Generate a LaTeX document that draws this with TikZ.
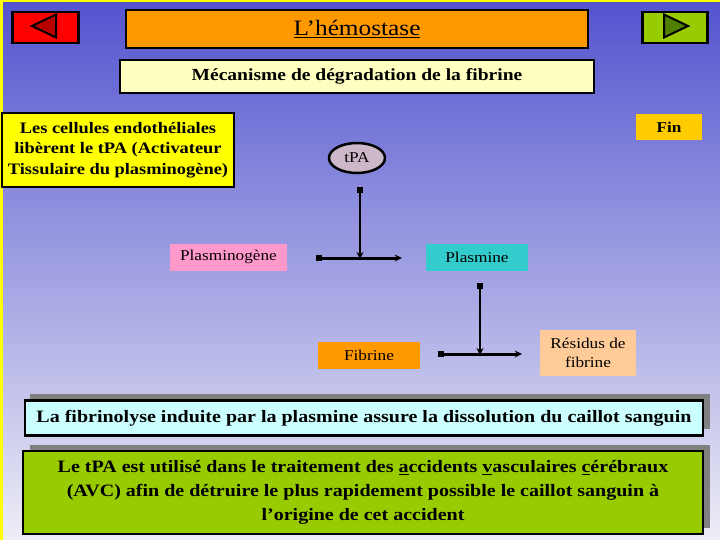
\documentclass[tikz,border=0pt]{standalone}
\usepackage{fontspec}
\setmainfont[FakeStretch=1.15]{Liberation Serif}
\usetikzlibrary{arrows.meta,shapes.geometric}
\definecolor{bgtop}{HTML}{5353CF}
\definecolor{bgbot}{HTML}{EEEEF6}
\definecolor{btnred}{HTML}{FF0000}
\definecolor{triRed}{HTML}{B80000}
\definecolor{btngreen}{HTML}{99CC00}
\definecolor{triGreen}{HTML}{4F7F00}
\definecolor{orangeT}{HTML}{FF9900}
\definecolor{paleY}{HTML}{FFFFC0}
\definecolor{yellowB}{HTML}{FFFF00}
\definecolor{finC}{HTML}{FFCC00}
\definecolor{tpaC}{HTML}{CCB8C8}
\definecolor{pinkC}{HTML}{FF99CC}
\definecolor{tealC}{HTML}{33CCCC}
\definecolor{peachC}{HTML}{FFCC99}
\definecolor{cyanL}{HTML}{CCFFFF}
\definecolor{shadowC}{HTML}{808080}
\tikzset{
  bordered/.style={draw=black, line width=2.5pt, inner sep=0pt, align=center},
  plain/.style={draw=none, inner sep=0pt, align=center},
  conn/.style={line width=3pt, {Square[length=6pt,width=6pt]}-{Stealth[length=7pt,width=7pt]}},
  vconn/.style={conn, line width=2.4pt},
  shadowbox/.style={fill=shadowC, draw=none}
}
\begin{document}
\begin{tikzpicture}[x=1pt,y=-1pt]
\useasboundingbox (0,0) rectangle (720,540);
% background
\shade[top color=bgtop, bottom color=bgbot] (0,0) rectangle (720,540);
\fill[yellowB] (0,0) rectangle (720,2.5);
\fill[yellowB] (0,0) rectangle (2.5,540);
% navigation buttons
\node[bordered, fill=btnred, minimum width=66pt, minimum height=31pt] (prev) at (45.5,27.5) {};
\fill[triRed, draw=black, line width=2pt] (32,26) -- (56,14.5) -- (56,37.5) -- cycle;
\node[bordered, fill=btngreen, minimum width=65pt, minimum height=31pt] (next) at (675,27.5) {};
\fill[triGreen, draw=black, line width=2pt] (688,26) -- (664,14.5) -- (664,37.5) -- cycle;
% title
\node[bordered, fill=orangeT, minimum width=462pt, minimum height=38pt, font=\fontsize{22}{26}\selectfont] (title) at (357,29) {\underline{L’hémostase}};
\node[bordered, fill=paleY, minimum width=474pt, minimum height=33pt, font=\bfseries\fontsize{17}{20}\selectfont] (sub) at (357,76.5) {Mécanisme de dégradation de la fibrine};
% left yellow box
\node[bordered, fill=yellowB, minimum width=232pt, minimum height=74pt, font=\bfseries\fontsize{16}{20.5}\selectfont] (cells) at (118,150) {Les cellules endothéliales\\libèrent le tPA (Activateur\\Tissulaire du plasminogène)};
% Fin
\node[plain, fill=finC, minimum width=66pt, minimum height=26pt, font=\bfseries\fontsize{15}{18}\selectfont] (fin) at (669,127) {Fin};
% tPA ellipse
\node[ellipse, draw=black, line width=2.5pt, fill=tpaC, minimum width=56pt, minimum height=30pt, inner sep=0pt, font=\fontsize{15}{18}\selectfont] (tpa) at (357,158) {tPA};
% reaction nodes
\node[plain, fill=pinkC, minimum width=117pt, minimum height=27pt, font=\fontsize{15}{18}\selectfont] (plg) at (228.5,257) {Plasminogène};
\node[plain, fill=tealC, minimum width=102pt, minimum height=27pt, font=\fontsize{15}{18}\selectfont] (pla) at (477,257) {Plasmine};
\node[plain, fill=orangeT, minimum width=102pt, minimum height=27pt, font=\fontsize{15}{18}\selectfont] (fib) at (369,355.5) {Fibrine};
\node[plain, fill=peachC, minimum width=96pt, minimum height=46pt, font=\fontsize{15}{19}\selectfont] (res) at (588,353) {Résidus de\\fibrine};
% junctions
\coordinate (j1) at (360,258);
\coordinate (j2) at (480,354);
\draw[conn] ([xshift=29pt]plg.east |- j1) -- ([xshift=-24pt]pla.west |- j1);
\draw[vconn] ([yshift=-13pt]tpa.south -| j1) -- ([yshift=-1pt]j1);
\draw[conn] ([xshift=18pt]fib.east |- j2) -- ([xshift=-18pt]res.west |- j2);
\draw[vconn] ([yshift=-12pt]pla.south -| j2) -- ([yshift=-1pt]j2);
% bottom boxes with shadows
\fill[shadowbox] (30,394) rectangle (710,429);
\node[bordered, fill=cyanL, minimum width=678pt, minimum height=35pt, font=\bfseries\fontsize{17.4}{20}\selectfont] (fibrino) at (364,418) {La fibrinolyse induite par la plasmine assure la dissolution du caillot sanguin};
\fill[shadowbox] (30,445) rectangle (710,528);
\node[bordered, fill=btngreen, minimum width=680pt, minimum height=83pt, font=\bfseries\fontsize{17.4}{24}\selectfont] (avc) at (363,492.5) {Le tPA est utilisé dans le traitement des \underline{a}ccidents \underline{v}asculaires \underline{c}érébraux\\(AVC) afin de détruire le plus rapidement possible le caillot sanguin à\\l’origine de cet accident};
\end{tikzpicture}
\end{document}
